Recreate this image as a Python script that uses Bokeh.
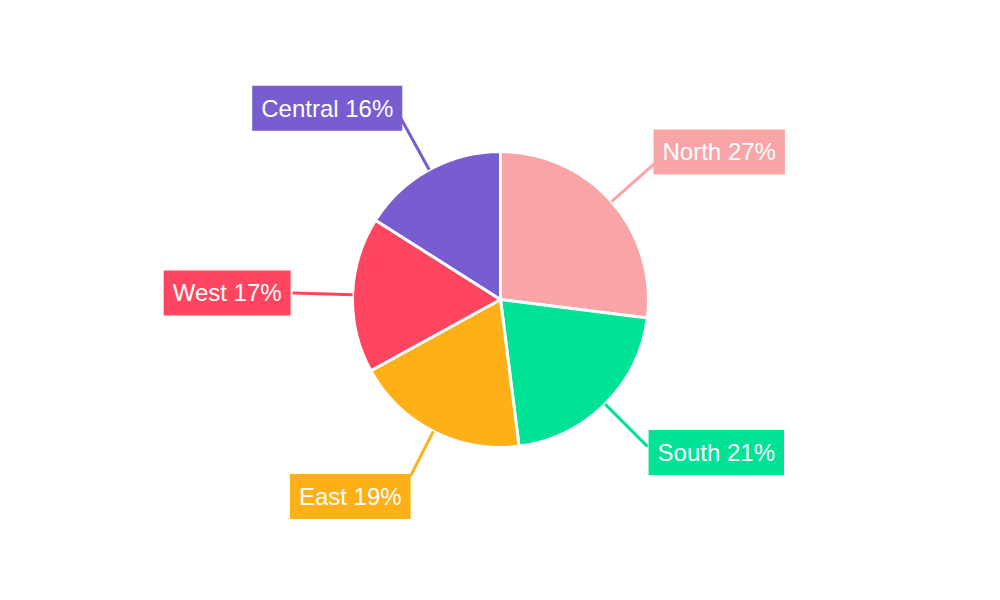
import math
from bokeh.plotting import figure
from bokeh.models import Range1d, Label
from bokeh.embed import file_html
from bokeh.resources import INLINE

regions = ["North", "South", "East", "West", "Central"]
shares = [27, 21, 19, 17, 16]
colors = ["#F9A5A8", "#00E396", "#FEB019", "#FF4560", "#775DD0"]

W, H = 984, 584
cx, cy = 500, H - 299
R = 148
# leader end radius per label (layout)
r_end = [208, 208, 198, 208, 208]

# label layout: anchor + pixel offset (dx right, dy down) from leader end
anchors = ["center_left", "center_left", "top_right", "center_right", "center_right"]
offsets = [(-3, -10), (1, 6), (0, -2), (-2, 0), (2, -9)]

p = figure(width=W, height=H, x_range=Range1d(0, W), y_range=Range1d(0, H),
           output_backend="svg", toolbar_location=None, min_border=0)
p.axis.visible = False
p.grid.visible = False
p.outline_line_color = None
p.background_fill_color = "white"

total = float(sum(shares))
cum = 0.0
starts, ends, mids = [], [], []
for s in shares:
    a0 = math.pi / 2 - 2 * math.pi * cum / total
    cum += s
    a1 = math.pi / 2 - 2 * math.pi * cum / total
    starts.append(a0)
    ends.append(a1)
    mids.append((a0 + a1) / 2)

p.wedge(x=[cx] * len(shares), y=[cy] * len(shares), radius=R,
        start_angle=starts, end_angle=ends, direction="clock",
        fill_color=colors, line_color="white", line_width=3)

x0 = [cx + R * math.cos(m) for m in mids]
y0 = [cy + R * math.sin(m) for m in mids]
x1 = [cx + r_end[i] * math.cos(m) for i, m in enumerate(mids)]
y1 = [cy + r_end[i] * math.sin(m) for i, m in enumerate(mids)]
p.segment(x0=x0, y0=y0, x1=x1, y1=y1, line_color=colors, line_width=3)

for i, name in enumerate(regions):
    dx, dy = offsets[i]
    lab = Label(x=x1[i] + dx, y=y1[i] - dy, text=f"{name} {shares[i]}%",
                anchor=anchors[i], text_color="white",
                text_font="Liberation Sans", text_font_size="24px",
                background_fill_color=colors[i], background_fill_alpha=1.0,
                padding=9)
    p.add_layout(lab)

open("out.html", "w").write(file_html(p, INLINE))
